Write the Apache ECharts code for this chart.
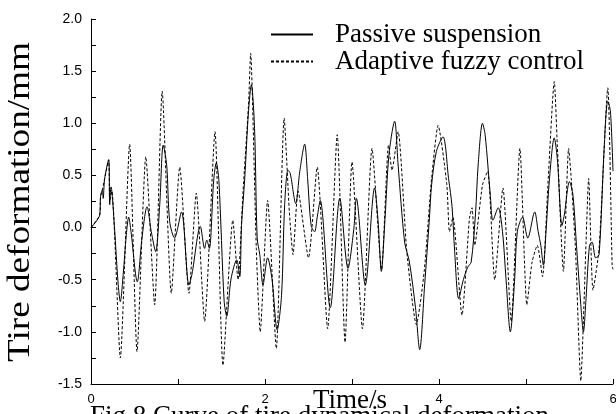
<!DOCTYPE html>
<html>
<head>
<meta charset="utf-8">
<script src="https://cdn.jsdelivr.net/npm/echarts@6/dist/echarts.min.js"></script>
<style>html,body{margin:0;padding:0;background:#fff}#c{width:616px;height:414px}</style>
</head>
<body>
<div id="c"></div>
<script>
// Passive suspension
var tPassive = [0,0.1,0.11,0.13,0.14,0.157,0.203,0.215,0.23,0.27,0.31,0.337,0.37,0.406,0.433,0.46,0.532,0.586,0.644,0.693,0.743,0.79,0.83,0.87,0.904,0.96,1.04,1.126,1.16,1.257,1.306,1.33,1.36,1.41,1.44,1.47,1.53,1.56,1.61,1.675,1.71,1.73,1.767,1.81,1.843,1.88,1.91,1.94,1.977,2.03,2.08,2.14,2.19,2.226,2.264,2.29,2.353,2.40,2.456,2.49,2.53,2.57,2.60,2.635,2.75,2.86,2.954,3.02,3.05,3.153,3.26,3.30,3.337,3.38,3.425,3.49,3.53,3.605,3.66,3.73,3.778,3.835,3.89,3.915,3.97,4.046,4.11,4.15,4.18,4.226,4.28,4.33,4.37,4.42,4.45,4.50,4.53,4.59,4.62,4.68,4.73,4.77,4.82,4.87,4.90,4.96,5.02,5.10,5.14,5.17,5.20,5.23,5.27,5.325,5.36,5.414,5.44,5.50,5.54,5.58,5.63,5.66,5.69,5.73,5.76,5.80,5.84,5.90,5.94,5.97,6.0];
var vPassive = [0,0.12,0.30,0.36,0.28,0.47,0.65,0.22,0.39,0.0,-0.52,-0.71,-0.45,-0.07,0.10,-0.04,-0.52,-0.10,0.20,-0.04,-0.23,0.22,0.79,0.60,0.06,-0.10,0.15,-0.55,-0.45,0.01,-0.20,-0.12,-0.20,0.45,0.62,0.45,-0.70,-0.85,-0.49,-0.31,-0.47,0.02,0.47,1.11,1.37,0.95,-0.10,-0.26,-0.55,-0.29,-0.49,-0.98,-0.65,0.22,0.55,0.52,0.23,0.54,0.80,0.47,0.02,-0.04,0.10,0.26,-0.77,0.28,-0.39,-0.02,0.28,-0.55,0.38,0.06,-0.42,0.09,0.70,1.02,0.60,-0.14,-0.33,-0.77,-1.17,-0.55,0.09,0.41,0.73,0.87,0.47,0.20,-0.23,-0.68,-0.50,-0.38,-0.33,0.14,0.60,1.0,0.89,0.31,0.07,0.19,-0.04,-0.49,-1.0,-0.49,-0.04,0.10,-0.10,0.15,-0.04,-0.17,-0.36,-0.04,0.47,0.86,0.66,0.02,0.12,0.44,0.31,-0.17,-0.74,-1.0,-0.68,-0.17,-0.14,-0.29,-0.26,0.79,1.21,1.12,0.54];
// Adaptive fuzzy control
var tFuzzy = [0,0.1,0.11,0.13,0.157,0.203,0.215,0.24,0.337,0.444,0.529,0.63,0.732,0.818,0.923,1.02,1.126,1.21,1.306,1.425,1.517,1.63,1.69,1.747,1.81,1.835,1.9,1.945,2.03,2.13,2.22,2.28,2.322,2.38,2.50,2.60,2.72,2.83,2.92,3.00,3.12,3.23,3.34,3.42,3.46,3.53,3.63,3.74,3.83,3.915,3.99,4.09,4.12,4.16,4.264,4.35,4.38,4.41,4.50,4.56,4.64,4.735,4.83,4.93,5.01,5.07,5.13,5.19,5.25,5.325,5.36,5.43,5.49,5.52,5.57,5.63,5.67,5.69,5.72,5.77,5.84,5.94,5.99,6.0];
var vFuzzy = [0,0.12,0.30,0.36,0.47,0.65,0.25,0.35,-1.25,0.80,-1.19,0.68,-0.74,1.31,-0.63,0.58,-0.63,0.33,-0.90,0.92,-1.32,0.07,-0.50,0.34,1.17,1.67,-0.20,-1.0,0.26,-1.16,1.05,0.15,-0.26,0.35,-0.29,0.58,-0.97,0.89,-1.10,0.63,-0.97,0.76,-0.40,0.79,0.55,0.92,-0.23,-0.93,-0.42,0.47,0.98,0.41,-0.04,0.10,-0.84,0.09,0.19,-0.17,0.41,0.54,-0.50,0.38,-0.90,0.76,-0.74,-0.33,-0.17,-0.47,0.38,1.40,0.79,-0.42,0.76,0.47,-0.23,-1.47,-0.65,-0.14,0.47,-0.60,-0.20,1.34,-0.36,-0.40];
var seriesNames = ['Passive suspension', 'Adaptive fuzzy control'];
var yTicks = {min: -1.5, max: 2.0, step: 0.5};
var xTicks = {min: 0, max: 6, step: 2};

function pairs(t, v) { return t.map(function (x, i) { return [x, v[i]]; }); }

var chart = echarts.init(document.getElementById('c'), null, {renderer: 'canvas'});
var serif = "'Liberation Serif', 'Times New Roman', serif";
var sans = "'Liberation Sans', Arial, sans-serif";
chart.setOption({
  animation: false,
  backgroundColor: '#fff',
  grid: {left: 91, right: 3, top: 19, bottom: 30, containLabel: false, outerBoundsMode: 'none'},
  legend: {
    orient: 'vertical', left: 265, top: 16, itemWidth: 42, itemHeight: 12, itemGap: 0,
    itemStyle: {opacity: 0},
    textStyle: {fontFamily: serif, fontSize: 27, color: '#000', lineHeight: 17, padding: [0, 0, 9, 17]},
    data: seriesNames
  },
  xAxis: {
    type: 'value', min: xTicks.min, max: xTicks.max, interval: xTicks.step,
    axisLine: {show: true, onZero: false, lineStyle: {color: '#000', width: 1}},
    axisTick: {show: true, inside: true, length: 5, lineStyle: {color: '#000'}},
    minorTick: {show: true, splitNumber: 2, length: 5, lineStyle: {color: '#000'}},
    axisLabel: {fontFamily: sans, fontSize: 13, color: '#000', margin: 9},
    splitLine: {show: false}
  },
  yAxis: {
    type: 'value', min: yTicks.min, max: yTicks.max, interval: yTicks.step,
    axisLine: {show: true, onZero: false, lineStyle: {color: '#000', width: 1}},
    axisTick: {show: true, inside: true, length: 5, lineStyle: {color: '#000'}},
    minorTick: {show: true, splitNumber: 2, length: 5, lineStyle: {color: '#000'}},
    axisLabel: {fontFamily: sans, fontSize: 14, color: '#000', margin: 9, formatter: function (v) { return v.toFixed(1); }},
    splitLine: {show: false}
  },
  series: [
    {name: seriesNames[0], type: 'line', data: pairs(tPassive, vPassive), showSymbol: false, symbol: 'none', smooth: 0.3,
     lineStyle: {color: '#000', width: 1}, itemStyle: {color: '#000'}},
    {name: seriesNames[1], type: 'line', data: pairs(tFuzzy, vFuzzy), showSymbol: false, symbol: 'none', smooth: 0.2,
     lineStyle: {color: '#000', width: 1, type: [3, 2]}, itemStyle: {color: '#000'}}
  ],
  graphic: [{
    type: 'text', left: 90, top: 403, z: -1,
    style: {text: 'Fig.8 Curve of tire dynamical deformation', font: '27px ' + serif, fill: '#000'}
  }, {
    type: 'text', x: 350, y: 387, z: 10,
    style: {text: 'Time/s', font: '27px ' + serif, fill: '#000', align: 'center', verticalAlign: 'top'}
  }, {
    type: 'text', x: 21, y: 202, rotation: Math.PI / 2, scaleX: 1.2,
    style: {text: 'Tire deformation/mm', font: '31px ' + serif, fill: '#000', align: 'center', verticalAlign: 'middle'}
  }]
});
</script>
</body>
</html>
